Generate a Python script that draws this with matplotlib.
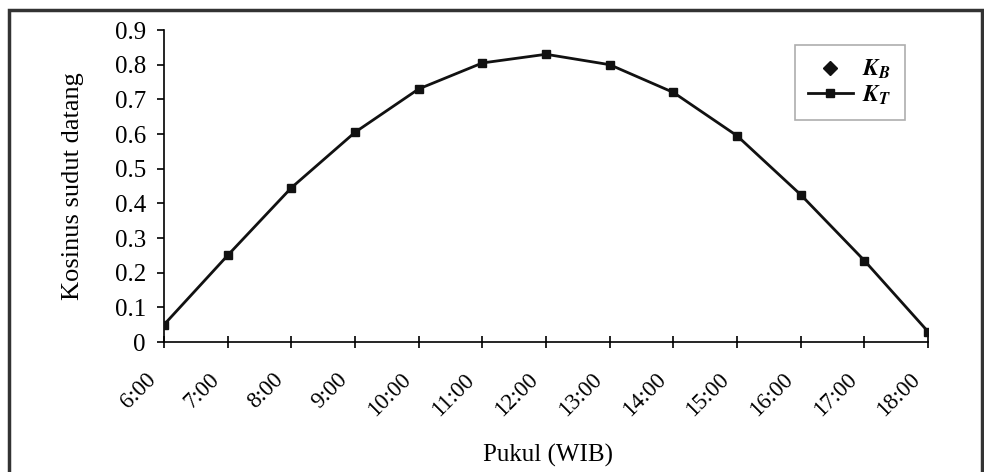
import matplotlib
matplotlib.use("Agg")
import matplotlib.pyplot as plt
import matplotlib.transforms as mtransforms
from matplotlib.patches import Rectangle

# data
jam = ["6:00", "7:00", "8:00", "9:00", "10:00", "11:00", "12:00",
       "13:00", "14:00", "15:00", "16:00", "17:00", "18:00"]
k_b = [0.05, 0.25, 0.445, 0.605, 0.73, 0.805, 0.83, 0.80, 0.72, 0.595, 0.425, 0.235, 0.03]
k_t = [0.05, 0.25, 0.445, 0.605, 0.73, 0.805, 0.83, 0.80, 0.72, 0.595, 0.425, 0.235, 0.03]
y_ticks = [0, 0.1, 0.2, 0.3, 0.4, 0.5, 0.6, 0.7, 0.8, 0.9]
y_labels = ["0", "0.1", "0.2", "0.3", "0.4", "0.5", "0.6", "0.7", "0.8", "0.9"]

plt.rcParams['font.family'] = ['Liberation Serif', 'DejaVu Serif']
plt.rcParams['mathtext.fontset'] = 'stix'

fig = plt.figure(figsize=(9.84, 4.72), dpi=100)
ax = fig.add_axes([0.1667, 0.2754, 0.7764, 0.661])

x = list(range(len(jam)))
ax.plot(x, k_b, linestyle='none', marker='D', markersize=4, color='#111111',
        label=r'$\mathbfit{K}_{\mathbfit{B}}$', zorder=2)
ax.plot(x, k_t, color='#111111', linewidth=2, marker='s', markersize=5.5,
        label=r'$\mathbfit{K}_{\mathbfit{T}}$', zorder=3)

ax.set_xlim(0, len(jam) - 1)
ax.set_ylim(0, 0.9)
ax.set_xticks(x)
ax.set_xticklabels(jam, rotation=45, ha='right', va='center',
                   rotation_mode='anchor', fontsize=16.5)
ax.set_yticks(y_ticks)
ax.set_yticklabels(y_labels, fontsize=18)
ax.tick_params(axis='y', direction='out', length=5, width=1.2, pad=8)
ax.tick_params(axis='x', direction='inout', length=8, width=1.2, pad=21)
shift = mtransforms.ScaledTranslation(-0.11, 0, fig.dpi_scale_trans)
for lbl in ax.get_xticklabels():
    lbl.set_transform(lbl.get_transform() + shift)
ax.spines['top'].set_visible(False)
ax.spines['right'].set_visible(False)
ax.spines['left'].set_linewidth(1.2)
ax.spines['bottom'].set_linewidth(1.2)

ax.set_ylabel('Kosinus sudut datang', fontsize=19, labelpad=22)
fig.text(0.557, 0.036, 'Pukul (WIB)', fontsize=18, ha='center', va='center')

leg = ax.legend(loc='upper left', bbox_to_anchor=(0.808, 0.905),
                bbox_transform=fig.transFigure, fontsize=17, fancybox=False,
                edgecolor='#999999', borderpad=0.55, borderaxespad=0,
                handlelength=1.9, handletextpad=0.4, labelspacing=0.1)
leg.get_frame().set_linewidth(1.2)
leg.legend_handles[0].set_markersize(7)

# outer frame of the picture
fig.patches.append(Rectangle((9 / 984, -0.02), 973 / 984, 1 - 10 / 472 + 0.02,
                             transform=fig.transFigure, fill=False,
                             edgecolor='#333333', linewidth=2.5))

fig.savefig('out.png', dpi=100)
